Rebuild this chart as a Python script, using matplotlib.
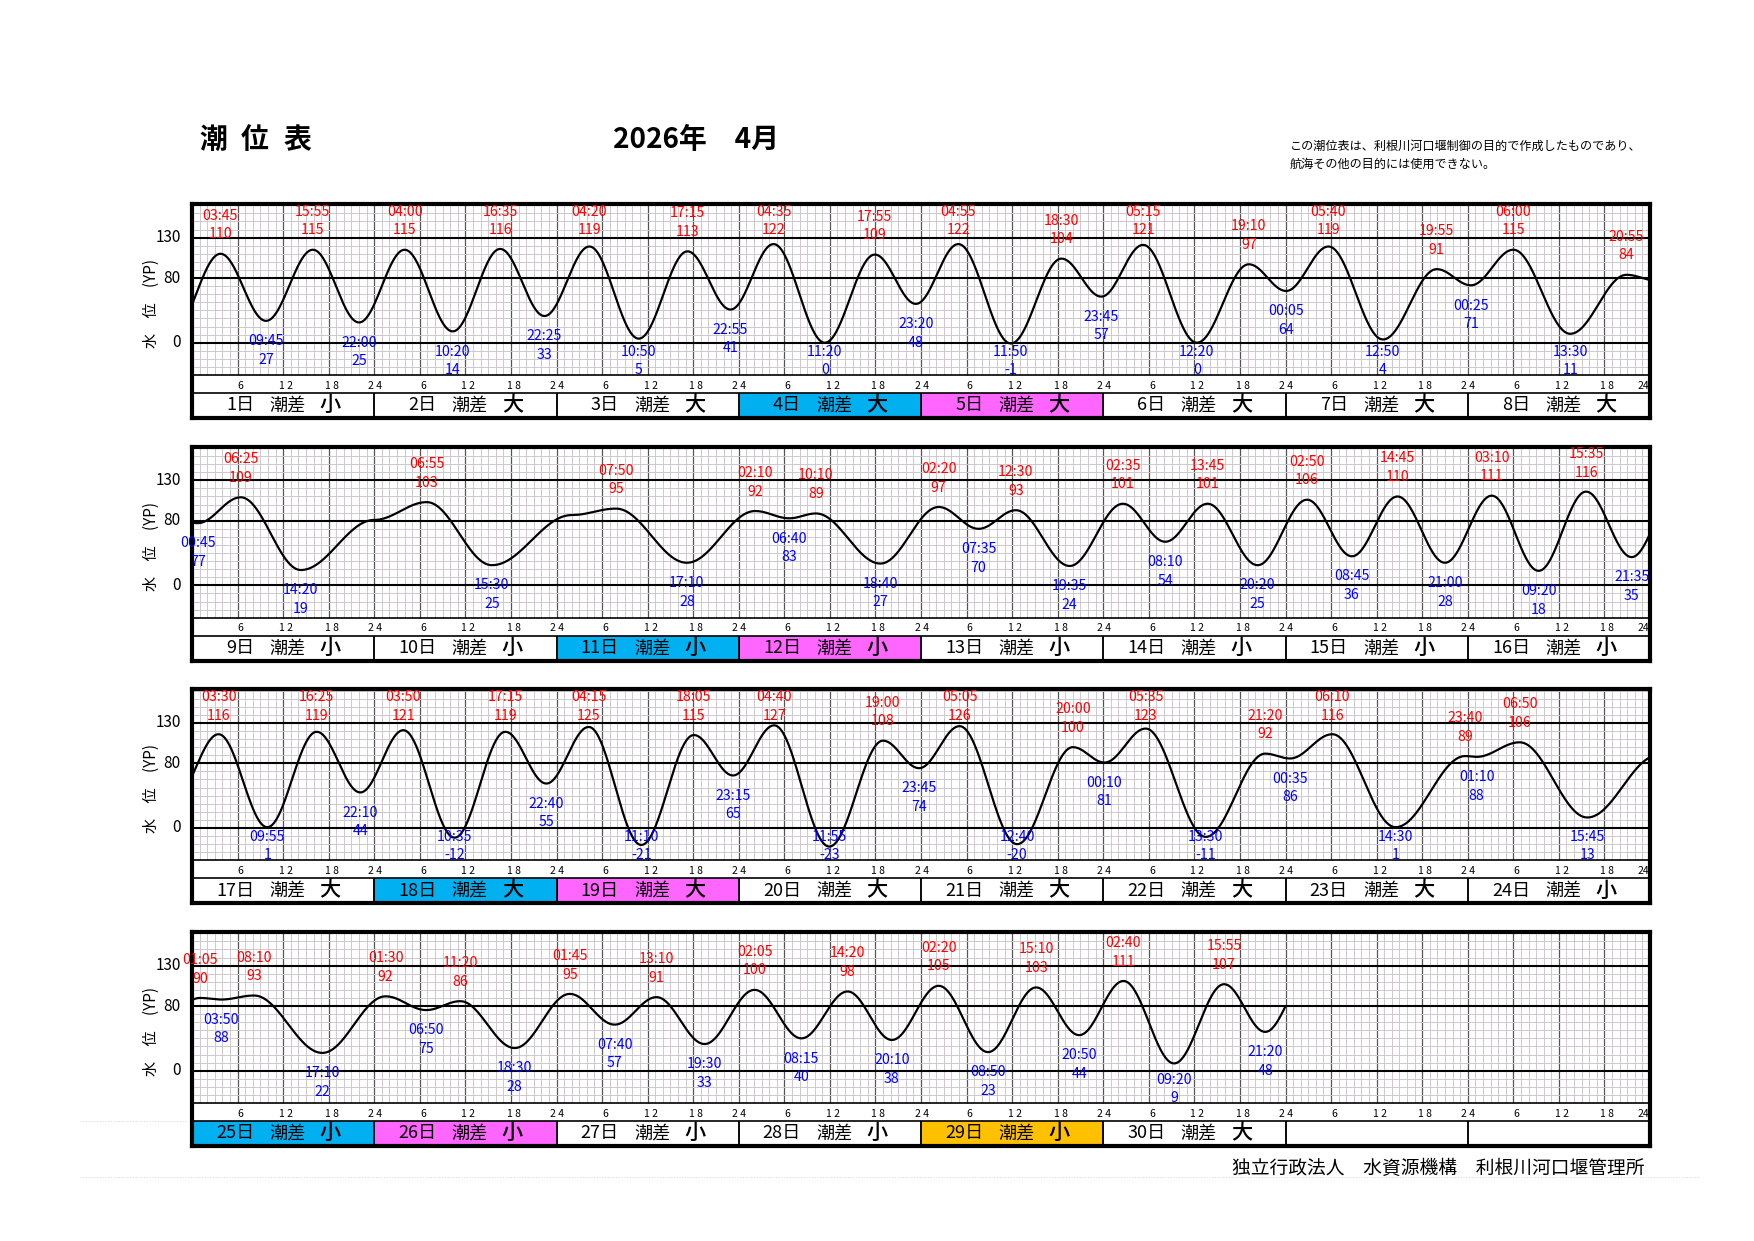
import numpy as np
import matplotlib
matplotlib.use("Agg")
import matplotlib.pyplot as plt
from matplotlib.patches import Rectangle

plt.rcParams['font.family'] = ['Noto Sans CJK JP', 'DejaVu Sans']

# 満潮 (day, time, level YP cm)
high_day = [1, 1, 2, 2, 3, 3, 4, 4, 5, 5, 6, 6, 7, 7, 8, 8,
            9, 10, 11, 12, 12, 13, 13, 14, 14, 15, 15, 16, 16,
            17, 17, 18, 18, 19, 19, 20, 20, 21, 21, 22, 22, 23, 23, 24,
            25, 25, 26, 26, 27, 27, 28, 28, 29, 29, 30, 30]
high_time = ['03:45', '15:55', '04:00', '16:35', '04:20', '17:15', '04:35', '17:55',
             '04:55', '18:30', '05:15', '19:10', '05:40', '19:55', '06:00', '20:55',
             '06:25', '06:55', '07:50', '02:10', '10:10', '02:20', '12:30', '02:35',
             '13:45', '02:50', '14:45', '03:10', '15:35',
             '03:30', '16:25', '03:50', '17:15', '04:15', '18:05', '04:40', '19:00',
             '05:05', '20:00', '05:35', '21:20', '06:10', '23:40', '06:50',
             '01:05', '08:10', '01:30', '11:20', '01:45', '13:10', '02:05', '14:20',
             '02:20', '15:10', '02:40', '15:55']
high_level = [110, 115, 115, 116, 119, 113, 122, 109, 122, 104, 121, 97, 119, 91, 115, 84,
              109, 103, 95, 92, 89, 97, 93, 101, 101, 106, 110, 111, 116,
              116, 119, 121, 119, 125, 115, 127, 108, 126, 100, 123, 92, 116, 89, 106,
              90, 93, 92, 86, 95, 91, 100, 98, 105, 103, 111, 107]

# 干潮
low_day = [1, 1, 2, 2, 3, 3, 4, 4, 5, 5, 6, 7, 7, 8, 8,
           9, 9, 10, 11, 12, 12, 13, 13, 14, 14, 15, 15, 16, 16,
           17, 17, 18, 18, 19, 19, 20, 20, 21, 22, 22, 23, 23, 24, 24,
           25, 25, 26, 26, 27, 27, 28, 28, 29, 29, 30, 30]
low_time = ['09:45', '22:00', '10:20', '22:25', '10:50', '22:55', '11:20', '23:20',
            '11:50', '23:45', '12:20', '00:05', '12:50', '00:25', '13:30',
            '00:45', '14:20', '15:30', '17:10', '06:40', '18:40', '07:35', '19:35',
            '08:10', '20:20', '08:45', '21:00', '09:20', '21:35',
            '09:55', '22:10', '10:35', '22:40', '11:10', '23:15', '11:55', '23:45',
            '12:40', '00:10', '13:30', '00:35', '14:30', '01:10', '15:45',
            '03:50', '17:10', '06:50', '18:30', '07:40', '19:30', '08:15', '20:10',
            '08:50', '20:50', '09:20', '21:20']
low_level = [27, 25, 14, 33, 5, 41, 0, 48, -1, 57, 0, 64, 4, 71, 11,
             77, 19, 25, 28, 83, 27, 70, 24, 54, 25, 36, 28, 18, 35,
             1, 44, -12, 55, -21, 65, -23, 74, -20, 81, -11, 86, 1, 88, 13,
             88, 22, 75, 28, 57, 33, 40, 38, 23, 44, 9, 48]

# unlabeled curve points (month edges and shoulders), hours from 4/1 00:00
extra_hour = [-2.67, 24.0 * 9, 24.0 * 10 + 2.0, 24.0 * 30 + 3.0]
extra_level = [10, 81, 87, 118]

# 潮差 and cell colours
tide_range = ['小', '大', '大', '大', '大', '大', '大', '大',
              '小', '小', '小', '小', '小', '小', '小', '小',
              '大', '大', '大', '大', '大', '大', '大', '小',
              '小', '小', '小', '小', '小', '大']
cell_color = {4: '#00B0F0', 5: '#FF66FF', 11: '#00B0F0', 12: '#FF66FF',
              18: '#00B0F0', 19: '#FF66FF', 25: '#00B0F0', 26: '#FF66FF',
              29: '#FFC000'}
n_days = 30


def to_hour(day, hhmm):
    h, m = hhmm.split(':')
    return (day - 1) * 24 + int(h) + int(m) / 60.0


high_hour = [to_hour(d, t) for d, t in zip(high_day, high_time)]
low_hour = [to_hour(d, t) for d, t in zip(low_day, low_time)]

node_t = np.array(high_hour + low_hour + extra_hour)
node_v = np.array(high_level + low_level + extra_level, dtype=float)
order = np.argsort(node_t)
node_t, node_v = node_t[order], node_v[order]


def tide(t):
    # cosine shape between successive high / low waters
    i = np.clip(np.searchsorted(node_t, t) - 1, 0, len(node_t) - 2)
    f = (t - node_t[i]) / (node_t[i + 1] - node_t[i])
    return node_v[i] + (node_v[i + 1] - node_v[i]) * (1 - np.cos(np.pi * f)) / 2


W, H = 1754, 1241
fig = plt.figure(figsize=(W / 150, H / 150), dpi=150)

px_l, px_r = 192, 1650
tops = [204, 446.7, 689.3, 932]
ph = 214
y_top, y_grid, y_hour, y_bot = 171.6, -40, -62.3, -93.2

for p, top in enumerate(tops):
    ax = fig.add_axes([px_l / W, 1 - (top + ph) / H, (px_r - px_l) / W, ph / H])
    ax.set_xlim(0, 192)
    ax.set_ylim(y_bot, y_top)
    ax.set_xticks([])
    ax.set_yticks([])
    for s in ax.spines.values():
        s.set_linewidth(2.0)
    t0 = p * 192

    # grid
    hrs = np.arange(1, 192)
    ax.vlines(hrs[hrs % 6 != 0], y_grid, y_top, color='#cdc6cd', lw=0.45, zorder=1)
    ax.vlines(hrs[hrs % 6 == 0], y_grid, y_top, color='#555555', lw=0.6, zorder=1)
    lv = np.arange(-30, 171, 10)
    ax.hlines([v for v in lv if v not in (0, 80, 130)], 0, 192, color='#cdc6cd', lw=0.45, zorder=1)
    ax.hlines([0, 80, 130], 0, 192, color='black', lw=1.0, zorder=2)
    ax.hlines([y_grid, y_hour], 0, 192, color='black', lw=0.8, zorder=2)

    # curve
    t_end = min(192, n_days * 24 - t0)
    tt = np.linspace(0, t_end, int(t_end * 12) + 1)
    ax.plot(tt, tide(tt + t0), color='black', lw=1.05, zorder=3)

    # labels
    for t, v in zip(high_hour, high_level):
        if t0 <= t < t0 + 192:
            ty = min(v + 47, 162)
            ax.text(t - t0, ty, high_time[high_hour.index(t)], color='red', fontsize=6.8,
                    ha='center', va='center', zorder=5, clip_on=False)
            ax.text(t - t0, ty - 23, str(v), color='red', fontsize=6.8,
                    ha='center', va='center', zorder=5, clip_on=False)
    for t, v in zip(low_hour, low_level):
        if t0 <= t < t0 + 192:
            ty = max(v - 25, -11)
            ax.text(t - t0, ty, low_time[low_hour.index(t)], color='blue', fontsize=6.8,
                    ha='center', va='center', zorder=5, clip_on=False)
            ax.text(t - t0, ty - 23, str(v), color='blue', fontsize=6.8,
                    ha='center', va='center', zorder=5, clip_on=False)

    # hour row and day cells
    for k in range(8):
        day = p * 8 + k + 1
        x0 = k * 24
        for h, lab in [(6, '6'), (12, '1 2'), (18, '1 8')]:
            ax.text(x0 + h + 0.4, -53, lab, fontsize=5, ha='center', va='center')
        if k < 7:
            ax.text(x0 + 24.1, -53, '2 4', fontsize=5, ha='center', va='center')
        else:
            ax.text(x0 + 23.9, -53, '24', fontsize=5, ha='right', va='center')
        fc = cell_color.get(day, 'white')
        ax.add_patch(Rectangle((x0, y_bot), 24, y_hour - y_bot, facecolor=fc,
                               edgecolor='none', zorder=1))
        if k > 0:
            ax.vlines(x0, y_bot, y_hour, color='black', lw=0.9, zorder=2)
        if day <= n_days:
            ax.text(x0 + 8.2, -77.7, f'{day}日', fontsize=8.7, ha='right', va='center')
            ax.text(x0 + 12.6, -77.7, '潮差', fontsize=8.7, ha='center', va='center')
            ax.text(x0 + 18.2, -77.7, tide_range[day - 1], fontsize=10.2,
                    ha='center', va='center', fontweight='medium')

    # y labels
    for v in [130, 80, 0]:
        ax.text(-1.5, v, str(v), fontsize=7.3, ha='right', va='center', clip_on=False)
    ax.text(-5.3, 48.5, '水　位　(YP)', fontsize=7.3, rotation=90,
            ha='center', va='center', clip_on=False)


def fx(px):
    return px / W


def fy(py):
    return 1 - py / H


for ch, cx in zip(['潮', '位', '表'], [213, 255, 297]):
    fig.text(fx(cx), fy(140), ch, fontsize=13.4, fontweight='bold', ha='center', va='center')
fig.text(fx(613), fy(140), '2026年　4月', fontsize=13.4, fontweight='bold', ha='left', va='center')
fig.text(fx(1290), fy(146), 'この潮位表は、利根川河口堰制御の目的で作成したものであり、',
         fontsize=5.8, ha='left', va='center')
fig.text(fx(1290), fy(164), '航海その他の目的には使用できない。',
         fontsize=5.8, ha='left', va='center')
fig.text(fx(1645), fy(1168), '独立行政法人　水資源機構　利根川河口堰管理所',
         fontsize=9, ha='right', va='center')

# faint print-area guides
fig.add_artist(plt.Line2D([fx(80), fx(188)], [fy(1121), fy(1121)], color='#d8d8d8',
                          lw=0.5, ls=':'))
fig.add_artist(plt.Line2D([fx(80), fx(1700)], [fy(1177), fy(1177)], color='#d8d8d8',
                          lw=0.5, ls=':'))

fig.savefig('out.png', dpi=150)
